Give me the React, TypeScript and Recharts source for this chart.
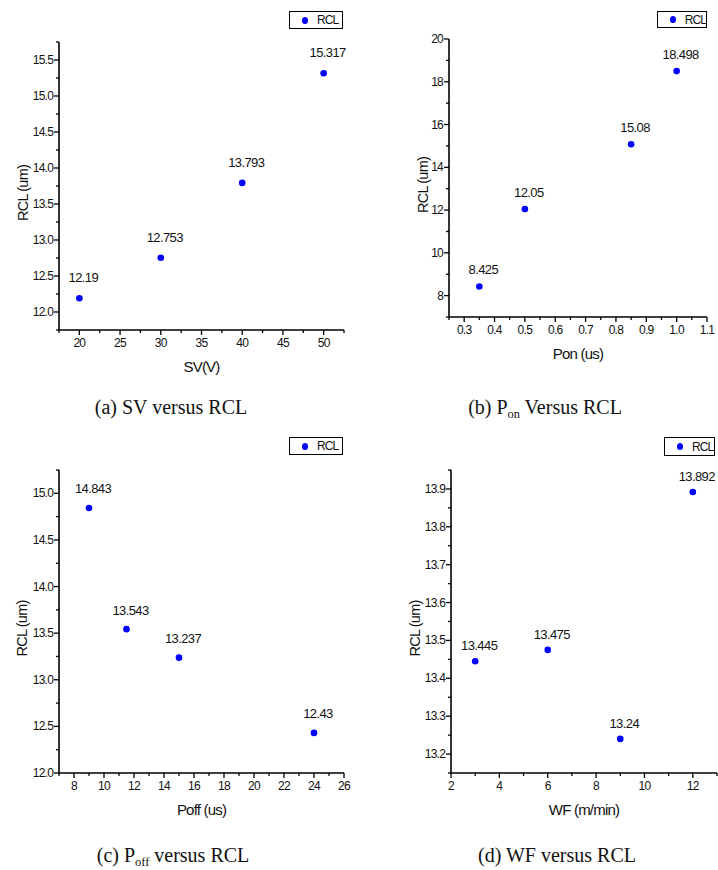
import React from "react";
import { LabelList, Legend, Scatter, ScatterChart, XAxis, YAxis } from "recharts";

// (a) servo voltage
const svVoltage = [20, 30, 40, 50];
const svRcl = [12.19, 12.753, 13.793, 15.317];
const svXTicks = [20, 25, 30, 35, 40, 45, 50];
const svYTicks = [12.0, 12.5, 13.0, 13.5, 14.0, 14.5, 15.0, 15.5];

// (b) pulse on time
const ponTime = [0.35, 0.5, 0.85, 1.0];
const ponRcl = [8.425, 12.05, 15.08, 18.498];
const ponXTicks = [0.3, 0.4, 0.5, 0.6, 0.7, 0.8, 0.9, 1.0, 1.1];
const ponYTicks = [8, 10, 12, 14, 16, 18, 20];

// (c) pulse off time
const poffTime = [9, 11.5, 15, 24];
const poffRcl = [14.843, 13.543, 13.237, 12.43];
const poffXTicks = [8, 10, 12, 14, 16, 18, 20, 22, 24, 26];
const poffYTicks = [12.0, 12.5, 13.0, 13.5, 14.0, 14.5, 15.0];

// (d) wire feed
const wfFeed = [3, 6, 9, 12];
const wfRcl = [13.445, 13.475, 13.24, 13.892];
const wfXTicks = [2, 4, 6, 8, 10, 12];
const wfYTicks = [13.2, 13.3, 13.4, 13.5, 13.6, 13.7, 13.8, 13.9];

const SANS = "'Liberation Sans', Arial, sans-serif";
const SERIF = "'Liberation Serif', 'Times New Roman', serif";
const BLUE = "#0000ff";

type Point = { x: number; y: number };

function toPoints(xs: number[], ys: number[]): Point[] {
  return xs.map((x, i) => ({ x, y: ys[i] }));
}

// majors plus one minor tick between them, filling the whole domain
function withMinor(majors: number[], domain: [number, number]) {
  const half = (majors[1] - majors[0]) / 2;
  const out: number[] = [];
  let v = majors[0];
  while (v - half >= domain[0] - 1e-9) v -= half;
  for (; v <= domain[1] + 1e-9; v += half) out.push(Math.round(v * 1e6) / 1e6);
  return out;
}

function isMajor(majors: number[], v: number) {
  return majors.some((m) => Math.abs(m - v) < 1e-6);
}

function makeXTick(majors: number[], decimals: number) {
  return (props: any) => {
    const { x, y, payload } = props;
    const major = isMajor(majors, payload.value);
    return (
      <g>
        <line x1={x} y1={y} x2={x} y2={y + (major ? 5 : 3)} stroke="#000" strokeWidth={1.3} />
        {major && (
          <text x={x} y={y + 17} textAnchor="middle" fontSize={12} letterSpacing={-0.7} fontFamily={SANS} fill="#111">
            {payload.value.toFixed(decimals)}
          </text>
        )}
      </g>
    );
  };
}

function makeYTick(majors: number[], decimals: number) {
  return (props: any) => {
    const { x, y, payload } = props;
    const major = isMajor(majors, payload.value);
    return (
      <g>
        <line x1={x} y1={y} x2={x - (major ? 5 : 3)} y2={y} stroke="#000" strokeWidth={1.3} />
        {major && (
          <text x={x - 6} y={y + 4} textAnchor="end" fontSize={12} letterSpacing={-0.8} fontFamily={SANS} fill="#111">
            {payload.value.toFixed(decimals)}
          </text>
        )}
      </g>
    );
  };
}

function makeValueLabel(lift: number) {
  return (props: any) => {
    const vb = props.viewBox ?? props;
    const cx = vb.x + (vb.width ?? 0) / 2;
    const cy = vb.y + (vb.height ?? 0) / 2;
    return (
      <text x={cx + 4} y={cy - lift} textAnchor="middle" fontSize={13} letterSpacing={-0.6} fontFamily={SANS} fill="#111">
        {String(props.value)}
      </text>
    );
  };
}

function dot(props: any) {
  return <circle cx={props.cx} cy={props.cy} r={3.3} fill={BLUE} />;
}

type PanelProps = {
  data: Point[];
  width: number;
  height: number;
  margin: { top: number; right: number; bottom: number; left: number };
  yAxisWidth: number;
  xDomain: [number, number];
  yDomain: [number, number];
  xTicks: number[];
  yTicks: number[];
  xDecimals: number;
  yDecimals: number;
  xTitle: string;
  yTitleGap: number;
  labelLift: number;
  legendBox: { left: number; top: number; width: number; height: number };
};

function RclPanel(p: PanelProps) {
  return (
    <ScatterChart width={p.width} height={p.height} margin={p.margin}>
      <XAxis
        type="number"
        dataKey="x"
        domain={p.xDomain}
        ticks={withMinor(p.xTicks, p.xDomain)}
        interval={0}
        allowDataOverflow
        height={40}
        tickSize={0}
        tickMargin={0}
        tickLine={false}
        tick={makeXTick(p.xTicks, p.xDecimals)}
        axisLine={{ stroke: "#000", strokeWidth: 1.6 }}
        label={{
          content: ({ viewBox }: any) => (
            <text
              x={viewBox.x + viewBox.width / 2}
              y={viewBox.y + 42}
              textAnchor="middle"
              fontSize={15}
              letterSpacing={-0.8}
              fontFamily={SANS}
              fill="#111"
            >
              {p.xTitle}
            </text>
          )
        }}
      />
      <YAxis
        type="number"
        dataKey="y"
        domain={p.yDomain}
        ticks={withMinor(p.yTicks, p.yDomain)}
        interval={0}
        allowDataOverflow
        width={p.yAxisWidth}
        tickSize={0}
        tickMargin={0}
        tickLine={false}
        tick={makeYTick(p.yTicks, p.yDecimals)}
        axisLine={{ stroke: "#000", strokeWidth: 1.6 }}
        label={{
          content: ({ viewBox }: any) => {
            const tx = viewBox.x + viewBox.width - p.yTitleGap;
            const ty = viewBox.y + viewBox.height / 2 + 7;
            return (
              <text
                x={tx}
                y={ty}
                transform={`rotate(-90 ${tx} ${ty})`}
                textAnchor="middle"
                dominantBaseline="central"
                fontSize={14.5}
                letterSpacing={-0.8}
                fontFamily={SANS}
                fill="#111"
              >
                RCL (um)
              </text>
            );
          }
        }}
      />
      <Legend
        layout="vertical"
        align="center"
        verticalAlign="middle"
        wrapperStyle={{ ...p.legendBox }}
        content={() => (
          <div
            style={{
              boxSizing: "border-box",
              width: p.legendBox.width,
              height: p.legendBox.height,
              border: "1.6px solid #000",
              background: "#fff",
              display: "flex",
              alignItems: "center",
              fontFamily: SANS,
              fontSize: 12,
              letterSpacing: -0.9,
              color: "#111"
            }}
          >
            <span
              style={{
                display: "inline-block",
                width: 6,
                height: 7,
                borderRadius: "50%",
                background: BLUE,
                marginLeft: 12,
                marginRight: 9
              }}
            />
            RCL
          </div>
        )}
      />
      <Scatter name="RCL" data={p.data} fill={BLUE} shape={dot} isAnimationActive={false}>
        <LabelList dataKey="y" content={makeValueLabel(p.labelLift)} />
      </Scatter>
    </ScatterChart>
  );
}

function Caption({ cx, cy, children }: { cx: number; cy: number; children: React.ReactNode }) {
  return (
    <div
      style={{
        position: "absolute",
        left: cx - 160,
        top: cy - 12,
        width: 320,
        lineHeight: "24px",
        textAlign: "center",
        fontFamily: SERIF,
        fontSize: 20,
        color: "#111",
        whiteSpace: "nowrap"
      }}
    >
      {children}
    </div>
  );
}

const sub = { fontSize: "0.62em", verticalAlign: "-0.3em" };

export default function App() {
  return (
    <div
      style={{
        position: "absolute",
        left: 0,
        top: 0,
        width: 718,
        height: 870,
        overflow: "hidden",
        background: "#fff"
      }}
    >
      <div style={{ position: "absolute", left: 0, top: 0 }}>
        <RclPanel
          data={toPoints(svVoltage, svRcl)}
          width={360}
          height={400}
          margin={{ top: 42, right: 16, bottom: 30, left: 14 }}
          yAxisWidth={45}
          xDomain={[17.5, 52.5]}
          yDomain={[11.75, 15.75]}
          xTicks={svXTicks}
          yTicks={svYTicks}
          xDecimals={0}
          yDecimals={1}
          xTitle="SV(V)"
          yTitleGap={36}
          labelLift={16}
          legendBox={{ left: 289, top: 11, width: 54, height: 18 }}
        />
      </div>
      <div style={{ position: "absolute", left: 360, top: 0 }}>
        <RclPanel
          data={toPoints(ponTime, ponRcl)}
          width={358}
          height={400}
          margin={{ top: 39, right: 11, bottom: 43, left: 39 }}
          yAxisWidth={50}
          xDomain={[0.25, 1.1]}
          yDomain={[7, 20]}
          xTicks={ponXTicks}
          yTicks={ponYTicks}
          xDecimals={1}
          yDecimals={0}
          xTitle="Pon (us)"
          yTitleGap={26}
          labelLift={12.5}
          legendBox={{ left: 297, top: 11, width: 50, height: 17 }}
        />
      </div>
      <div style={{ position: "absolute", left: 0, top: 420 }}>
        <RclPanel
          data={toPoints(poffTime, poffRcl)}
          width={360}
          height={450}
          margin={{ top: 50, right: 16, bottom: 57, left: 14 }}
          yAxisWidth={45}
          xDomain={[7, 26]}
          yDomain={[12, 15.25]}
          xTicks={poffXTicks}
          yTicks={poffYTicks}
          xDecimals={0}
          yDecimals={1}
          xTitle="Poff (us)"
          yTitleGap={37}
          labelLift={14.5}
          legendBox={{ left: 289, top: 17, width: 54, height: 18 }}
        />
      </div>
      <div style={{ position: "absolute", left: 360, top: 420 }}>
        <RclPanel
          data={toPoints(wfFeed, wfRcl)}
          width={358}
          height={450}
          margin={{ top: 50, right: 1, bottom: 57, left: 46 }}
          yAxisWidth={45}
          xDomain={[2, 13]}
          yDomain={[13.15, 13.95]}
          xTicks={wfXTicks}
          yTicks={wfYTicks}
          xDecimals={0}
          yDecimals={1}
          xTitle="WF (m/min)"
          yTitleGap={36}
          labelLift={11}
          legendBox={{ left: 304, top: 17, width: 51, height: 19 }}
        />
      </div>
      <Caption cx={171} cy={407}>(a) SV versus RCL</Caption>
      <Caption cx={545} cy={407}>
        (b) P<span style={sub}>on</span> Versus RCL
      </Caption>
      <Caption cx={173} cy={855}>
        (c) P<span style={sub}>off</span> versus RCL
      </Caption>
      <Caption cx={557} cy={855}>(d) WF versus RCL</Caption>
    </div>
  );
}
